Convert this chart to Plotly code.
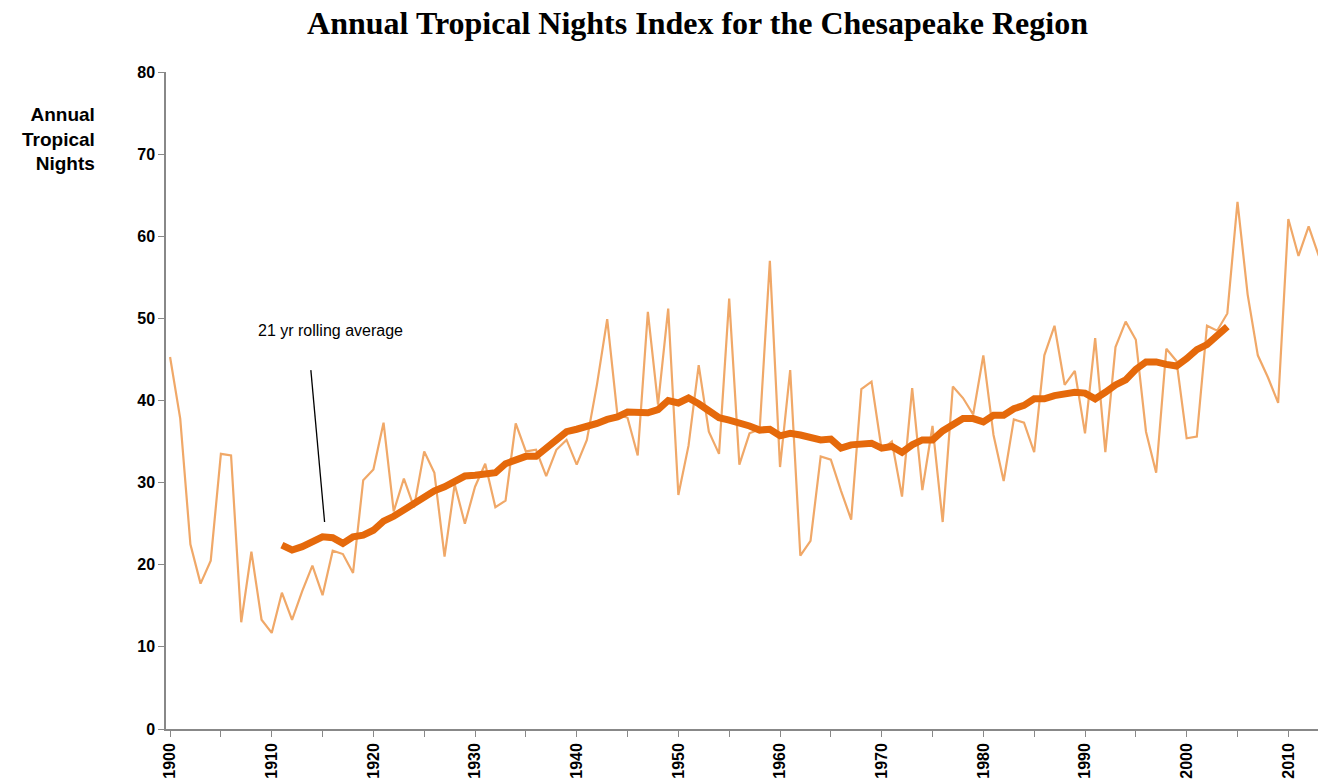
import plotly.graph_objects as go

years = list(range(1900, 2015))
annual = [45.3,37.8,22.5,17.7,20.5,33.5,33.3,13.0,21.6,13.3,
          11.7,16.6,13.3,16.8,19.9,16.3,21.7,21.3,19.0,30.3,
          31.6,37.3,26.5,30.5,27.0,33.8,31.2,21.0,29.8,25.0,
          29.5,32.3,27.0,27.8,37.2,33.8,34.0,30.8,34.0,35.2,
          32.2,35.2,42.0,49.9,38.3,37.9,33.3,50.8,39.5,51.2,
          28.5,34.5,44.3,36.2,33.5,52.4,32.2,36.0,36.5,57.0,
          31.9,43.7,21.1,22.9,33.2,32.8,29.0,25.5,41.4,42.3,
          34.0,35.0,28.3,41.5,29.1,36.9,25.2,41.7,40.3,38.3,
          45.5,35.8,30.2,37.7,37.3,33.7,45.5,49.1,41.9,43.6,
          36.0,47.6,33.7,46.5,49.6,47.4,36.2,31.2,46.3,44.8,
          35.4,35.6,49.1,48.5,50.6,64.2,52.9,45.5,42.8,39.7,
          62.1,57.6,61.2,57.6,69.1]
roll_years = list(range(1911, 2005))
rolling = [22.4,21.8,22.2,22.7,23.4,23.3,22.6,23.4,23.6,24.2,
           25.3,25.9,26.7,27.5,28.1,29.0,29.5,30.1,30.8,30.9,
           31.0,31.2,32.3,32.8,33.2,33.2,34.2,35.1,36.2,36.5,
           36.8,37.2,37.7,38.0,38.6,38.5,38.5,38.9,40.0,39.7,
           40.3,39.6,38.7,37.9,37.6,37.3,36.9,36.4,36.5,35.7,
           36.0,35.8,35.6,35.2,35.3,34.2,34.6,34.8,34.8,34.2,
           34.4,33.7,34.6,35.2,35.2,36.3,37.1,37.8,37.8,37.4,
           38.2,38.2,39.0,39.4,40.2,40.2,40.6,40.8,41.0,40.9,
           40.2,41.0,41.9,42.5,43.8,44.7,44.7,44.4,44.2,45.1,
           46.2,46.8,47.9,49.0]
xticks = list(range(1900, 2011, 10))
yticks = list(range(0, 81, 10))

fig = go.Figure()
fig.add_trace(go.Scatter(x=years, y=annual, mode="lines",
                         line=dict(color="#F0A868", width=2.2), hoverinfo="skip"))
fig.add_trace(go.Scatter(x=roll_years, y=rolling, mode="lines",
                         line=dict(color="#E5690B", width=7), hoverinfo="skip"))

fig.add_shape(type="line", x0=1913.85, y0=43.7, x1=1915.2, y1=25.2,
              line=dict(color="black", width=1.3))
fig.add_annotation(x=1915.8, y=48.5, text="21 yr rolling average", showarrow=False,
                   font=dict(family="Liberation Sans, Arial", size=16, color="black"))
fig.add_annotation(xref="paper", yref="paper", x=-0.059, y=0.955, xanchor="right", yanchor="top",
                   align="right", showarrow=False,
                   text="<b>Annual<br>Tropical<br>Nights</b>",
                   font=dict(family="Liberation Sans, Arial", size=19, color="black"))

tf = dict(family="Liberation Sans, Arial", size=16, color="black", weight="bold")
fig.update_layout(
    width=1326, height=781,
    margin=dict(l=158, r=4, t=64, b=60, autoexpand=False),
    paper_bgcolor="white", plot_bgcolor="white",
    showlegend=False,
    title=dict(text="<b>Annual Tropical Nights Index for the Chesapeake Region</b>",
               x=0.52, xanchor="center", y=0.995, yanchor="top",
               font=dict(family="Liberation Serif, Palatino, serif", size=32, color="black")),
    xaxis=dict(range=[1899.6, 2014.1], tickvals=xticks, ticktext=[str(v) for v in xticks],
               tickangle=-90, showgrid=False, zeroline=False, automargin=False,
               showline=True, linecolor="#888", linewidth=1.5,
               ticks="outside", ticklen=6, tickcolor="#888",
               minor=dict(dtick=5, tick0=1900, ticks="outside", ticklen=6, tickcolor="#888"),
               tickfont=tf, fixedrange=True),
    yaxis=dict(range=[0, 80], tickvals=yticks, showgrid=False, zeroline=False, automargin=False,
               showline=True, linecolor="#888", linewidth=1.5,
               ticks="outside", ticklen=6, tickcolor="#888",
               tickfont=tf, fixedrange=True),
)
fig.write_html("out.html")
